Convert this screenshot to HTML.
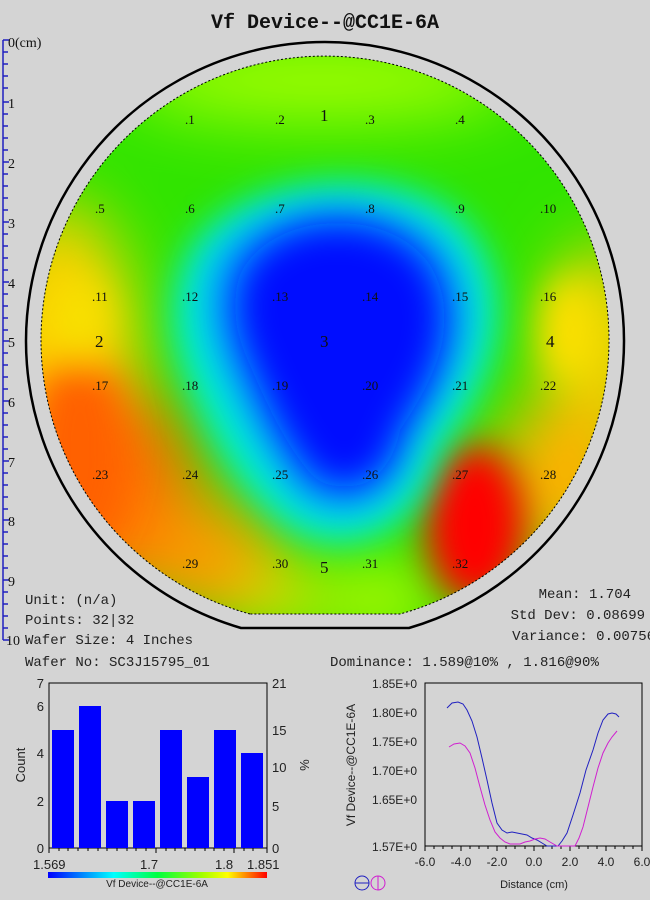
<!DOCTYPE html>
<html><head><meta charset="utf-8"><style>
body{margin:0;background:#d4d4d4;width:650px;height:900px;overflow:hidden;font-family:"Liberation Mono","Noto Serif CJK SC",monospace;}
</style></head><body>
<svg width="650" height="900" viewBox="0 0 650 900" xmlns="http://www.w3.org/2000/svg" style="position:absolute;left:0;top:0">
<defs>
<clipPath id="wc"><path d="M250,614 A284,284 0 1 1 400,614 Z"/></clipPath>
<filter id="b1" x="-50%" y="-50%" width="200%" height="200%"><feGaussianBlur stdDeviation="34"/></filter>
<filter id="b2" x="-50%" y="-50%" width="200%" height="200%"><feGaussianBlur stdDeviation="18"/></filter>
<linearGradient id="cb" x1="0" x2="1"><stop offset="0" stop-color="#0000ff"/><stop offset="0.3" stop-color="#00ffff"/><stop offset="0.5" stop-color="#00ff40"/><stop offset="0.7" stop-color="#a0ff00"/><stop offset="0.82" stop-color="#ffff00"/><stop offset="1" stop-color="#ff0000"/></linearGradient>
</defs>
<text x="325" y="28" font-size="20" font-weight="bold" text-anchor="middle" fill="#111" font-family="Liberation Mono,monospace">Vf Device--@CC1E-6A</text>
<g stroke="#2020c0" stroke-width="1.5">
<line x1="3" y1="40" x2="3" y2="640"/>
<path d="M3,40h6M3,102h6M3,162h6M3,222h6M3,282h6M3,341h6M3,401h6M3,461h6M3,520h6M3,580h6M3,640h6"/>
<path d="M3,52h5M3,64h5M3,76h5M3,88h5M3,114h5M3,126h5M3,138h5M3,150h5M3,174h5M3,186h5M3,198h5M3,210h5M3,234h5M3,246h5M3,258h5M3,270h5M3,294h5M3,306h5M3,318h5M3,330h5M3,353h5M3,365h5M3,377h5M3,389h5M3,413h5M3,425h5M3,437h5M3,449h5M3,473h5M3,485h5M3,497h5M3,509h5M3,532h5M3,544h5M3,556h5M3,568h5M3,592h5M3,604h5M3,616h5M3,628h5"/>
</g>
<g font-size="14" fill="#111" font-family="Liberation Serif,serif">
<text x="8" y="47">0(cm)</text><text x="8" y="108">1</text><text x="8" y="168">2</text><text x="8" y="228">3</text><text x="8" y="288">4</text><text x="8" y="347">5</text><text x="8" y="407">6</text><text x="8" y="467">7</text><text x="8" y="526">8</text><text x="8" y="586">9</text><text x="6" y="645">10</text>
</g>
<path d="M241,628 A299,299 0 1 1 409,628 Z" fill="none" stroke="#000" stroke-width="2.5"/>
<g clip-path="url(#wc)">
<rect x="30" y="50" width="600" height="580" fill="#30e400"/>
<g filter="url(#b1)">
<ellipse cx="320" cy="80" rx="200" ry="40" fill="#a8ff00"/>
<ellipse cx="60" cy="380" rx="80" ry="180" fill="#ffd000"/>
<ellipse cx="100" cy="490" rx="100" ry="110" fill="#ff7000"/>
<ellipse cx="210" cy="560" rx="70" ry="60" fill="#ff9a00"/>
<ellipse cx="600" cy="360" rx="50" ry="120" fill="#ffd000"/>
<ellipse cx="560" cy="480" rx="70" ry="80" fill="#ffb000"/>
<ellipse cx="380" cy="600" rx="60" ry="30" fill="#d8ff00"/>
<ellipse cx="280" cy="600" rx="40" ry="30" fill="#ffe000"/>
</g>
<g filter="url(#b2)">
<ellipse cx="475" cy="525" rx="50" ry="80" fill="#ff0000"/>
<ellipse cx="80" cy="450" rx="45" ry="100" fill="#ff6000"/>
<ellipse cx="570" cy="330" rx="28" ry="55" fill="#ffe000"/>
<ellipse cx="80" cy="320" rx="30" ry="45" fill="#f8e000"/>
</g>
<g filter="url(#b2)">
<path d="M185,260 C230,165 420,160 470,230 C530,310 480,400 440,450 C420,540 340,560 290,530 C240,495 210,440 190,390 C165,330 170,295 185,260 Z" fill="#00f0d0"/>
</g>
<g filter="url(#b2)">
<path d="M210,265 C250,185 405,185 450,250 C495,320 450,390 415,440 C400,515 340,530 300,500 C265,465 245,420 225,380 C200,330 200,295 210,265 Z" fill="#00a8ff"/>
</g>
<g filter="url(#b2)">
<path d="M240,275 C270,210 390,205 430,265 C465,325 430,385 400,430 C388,490 340,500 312,475 C285,445 265,400 250,365 C232,325 232,300 240,275 Z" fill="#0010ff"/>
</g>
</g>
<path d="M250,614 A284,284 0 1 1 400,614 Z" fill="none" stroke="#000" stroke-width="1" stroke-dasharray="2,2"/>
<g font-size="13" fill="#111" font-family="Liberation Serif,serif">
<text x="185" y="124">.1</text><text x="275" y="124">.2</text><text x="365" y="124">.3</text><text x="455" y="124">.4</text>
<text x="95" y="213">.5</text><text x="185" y="213">.6</text><text x="275" y="213">.7</text><text x="365" y="213">.8</text><text x="455" y="213">.9</text><text x="540" y="213">.10</text>
<text x="92" y="301">.11</text><text x="182" y="301">.12</text><text x="272" y="301">.13</text><text x="362" y="301">.14</text><text x="452" y="301">.15</text><text x="540" y="301">.16</text>
<text x="92" y="390">.17</text><text x="182" y="390">.18</text><text x="272" y="390">.19</text><text x="362" y="390">.20</text><text x="452" y="390">.21</text><text x="540" y="390">.22</text>
<text x="92" y="479">.23</text><text x="182" y="479">.24</text><text x="272" y="479">.25</text><text x="362" y="479">.26</text><text x="452" y="479">.27</text><text x="540" y="479">.28</text>
<text x="182" y="568">.29</text><text x="272" y="568">.30</text><text x="362" y="568">.31</text><text x="452" y="568">.32</text>
</g>
<g font-size="17" fill="#111" font-family="Liberation Serif,serif">
<text x="320" y="121">1</text><text x="95" y="347">2</text><text x="320" y="347">3</text><text x="546" y="347">4</text><text x="320" y="573">5</text>
</g>
<g font-size="14" fill="#222">
<text x="25" y="604">Unit: (n/a)</text>
<text x="25" y="624">Points: 32|32</text>
<text x="25" y="644">Wafer Size: 4 Inches</text>
<text x="25" y="666">Wafer No: SC3J15795_01</text>
<text x="631" y="598" text-anchor="end">Mean: 1.704</text>
<text x="645" y="619" text-anchor="end">Std Dev: 0.08699</text>
<text x="655" y="640" text-anchor="end">Variance: 0.00756</text>
<text x="330" y="666">Dominance: 1.589@10% , 1.816@90%</text>
</g>
<g font-family="Liberation Sans,sans-serif" fill="#222">
<rect x="49" y="683" width="218" height="165" fill="none" stroke="#000"/>
<g fill="#0000ff">
<rect x="52" y="730" width="22" height="118"/><rect x="79" y="706" width="22" height="142"/>
<rect x="106" y="801" width="22" height="47"/><rect x="133" y="801" width="22" height="47"/>
<rect x="160" y="730" width="22" height="118"/><rect x="187" y="777" width="22" height="71"/>
<rect x="214" y="730" width="22" height="118"/><rect x="241" y="753" width="22" height="95"/>
</g>
<g font-size="13">
<text x="44" y="688" text-anchor="end">7</text><text x="44" y="711" text-anchor="end">6</text><text x="44" y="758" text-anchor="end">4</text><text x="44" y="806" text-anchor="end">2</text><text x="44" y="853" text-anchor="end">0</text>
<text x="272" y="688">21</text><text x="272" y="735">15</text><text x="272" y="772">10</text><text x="272" y="811">5</text><text x="272" y="853">0</text>
<text x="33" y="869">1.569</text><text x="140" y="869">1.7</text><text x="215" y="869">1.8</text><text x="247" y="869">1.851</text>
<text transform="translate(25,765) rotate(-90)" text-anchor="middle">Count</text>
<text transform="translate(300,765) rotate(90)" text-anchor="middle">%</text>
</g>
<path d="M49,848v5M59,848v3M68,848v3M78,848v3M88,848v3M98,848v3M107,848v3M117,848v3M127,848v3M136,848v3M146,848v3M156,848v5M166,848v3M175,848v3M185,848v3M195,848v3M205,848v3M214,848v3M224,848v3M234,848v5M244,848v3M253,848v3M267,848v5" stroke="#000"/>
<rect x="48" y="872" width="219" height="6" fill="url(#cb)"/>
<text x="157" y="887" font-size="10" text-anchor="middle">Vf Device--@CC1E-6A</text>
</g>
<g font-family="Liberation Sans,sans-serif" fill="#222" font-size="12">
<rect x="425" y="683" width="217" height="163" fill="none" stroke="#000"/>
<text x="417" y="688" text-anchor="end">1.85E+0</text><text x="417" y="717" text-anchor="end">1.80E+0</text><text x="417" y="746" text-anchor="end">1.75E+0</text><text x="417" y="775" text-anchor="end">1.70E+0</text><text x="417" y="804" text-anchor="end">1.65E+0</text><text x="417" y="851" text-anchor="end">1.57E+0</text>
<text x="425" y="866" text-anchor="middle">-6.0</text><text x="461" y="866" text-anchor="middle">-4.0</text><text x="497" y="866" text-anchor="middle">-2.0</text><text x="534" y="866" text-anchor="middle">0.0</text><text x="570" y="866" text-anchor="middle">2.0</text><text x="606" y="866" text-anchor="middle">4.0</text><text x="642" y="866" text-anchor="middle">6.0</text>
<text x="534" y="888" font-size="11" text-anchor="middle">Distance (cm)</text>
<text transform="translate(355,765) rotate(-90)" text-anchor="middle">Vf Device--@CC1E-6A</text>
<path d="M425,846v5M434,846v3M443,846v3M452,846v3M461,846v5M470,846v3M479,846v3M488,846v3M497,846v5M506,846v3M515,846v3M525,846v3M534,846v5M543,846v3M552,846v3M561,846v3M570,846v5M579,846v3M588,846v3M597,846v3M606,846v5M615,846v3M624,846v3M633,846v3M642,846v5" stroke="#000"/>
<polyline fill="none" stroke="#2020c0" points="447,708 452,703 458,702 463,704 467,710 472,721 477,737 482,758 487,780 492,803 497,823 502,830 507,833 512,832 517,833 522,834 527,835 532,838 537,840 542,843 547,846 558,846 562,841 567,833 573,815 580,793 586,770 593,750 598,733 603,720 608,714 612,713 616,714 619,717"/>
<polyline fill="none" stroke="#d020d0" points="449,747 454,744 460,743 465,746 470,753 475,768 480,787 485,805 490,820 495,832 500,838 505,842 510,844 515,844 520,844 525,842 530,841 535,839 540,838 545,839 550,842 557,846 575,846 579,838 583,827 588,807 593,787 598,768 603,753 608,743 612,737 617,731"/>
<circle cx="362" cy="883" r="7" fill="none" stroke="#2020c0"/><line x1="355" y1="883" x2="369" y2="883" stroke="#2020c0"/>
<circle cx="378" cy="883" r="7" fill="none" stroke="#d020d0"/><line x1="378" y1="876" x2="378" y2="890" stroke="#d020d0"/>
</g>
</svg>
</body></html>
